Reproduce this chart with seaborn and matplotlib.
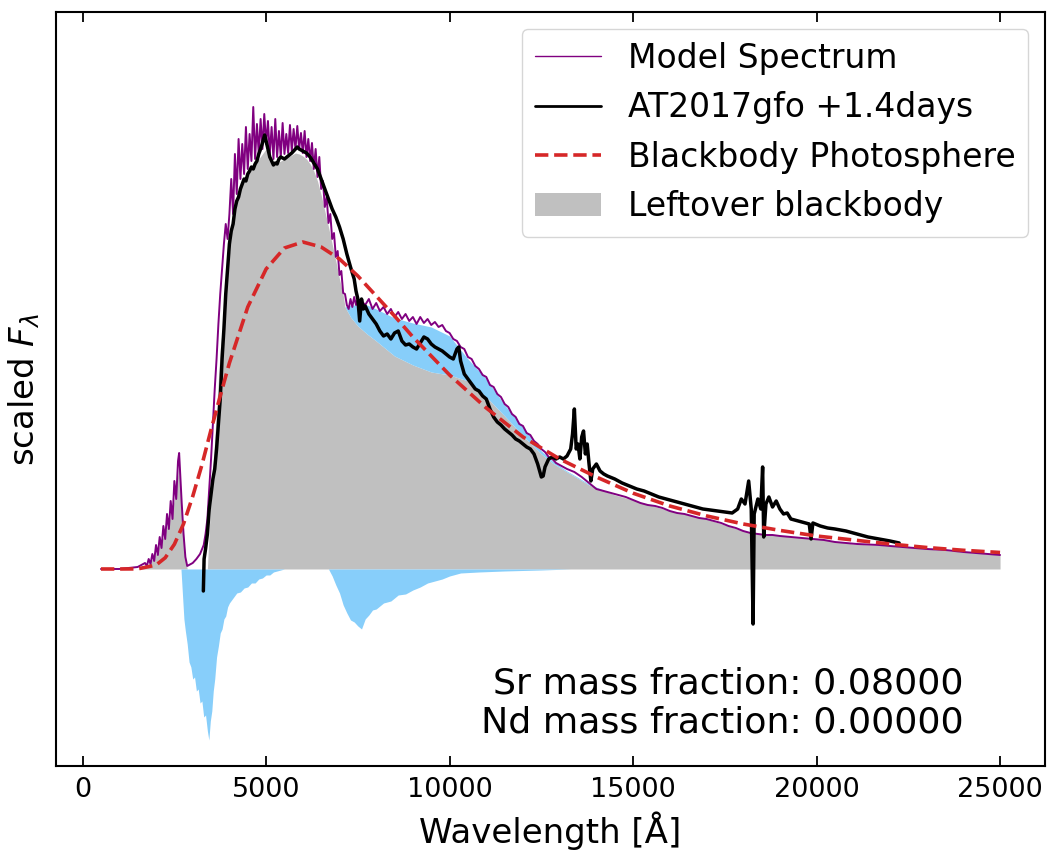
import numpy as np
import pandas as pd
import matplotlib
matplotlib.use("Agg")
import matplotlib.pyplot as plt
import seaborn as sns
from matplotlib.patches import Patch
from matplotlib.lines import Line2D

# ---------------- data ----------------
model_wave = [500, 1000, 1250, 1500, 1600, 1700, 1750, 1800, 1850, 1900, 1950, 2000, 2050, 2100, 2150,
              2200, 2250, 2300, 2350, 2400, 2450, 2500, 2550, 2600, 2630, 2660, 2700, 2750, 2800, 2850,
              2900, 3000, 3100, 3200, 3300, 3350,
              3400, 3450, 3500, 3550, 3600, 3650, 3700, 3750, 3800, 3850, 3900,
              3950, 4000, 4050, 4100, 4150, 4200, 4250, 4300, 4350, 4400, 4450, 4500, 4550, 4600, 4650,
              4700, 4750, 4800, 4850, 4900, 4950, 5000, 5050, 5100, 5150, 5200, 5250, 5300, 5350, 5400,
              5450, 5500, 5550, 5600, 5650, 5700, 5750, 5800, 5850, 5900, 5950, 6000, 6050, 6100, 6150,
              6200, 6250, 6300, 6350, 6400, 6450, 6500, 6550, 6600, 6650, 6700, 6750, 6800, 6850, 6900,
              6950, 7000, 7050, 7100, 7150, 7200,
              7250, 7300, 7350, 7400, 7450, 7500, 7550, 7600, 7700, 7800, 7900, 8000, 8100, 8200, 8300,
              8400, 8500, 8600, 8700, 8800, 8900, 9000, 9100, 9200, 9300, 9400, 9500, 9600, 9700, 9800,
              9900, 10000, 10100, 10200, 10300, 10400, 10500, 10600, 10700, 10800, 10900, 11000, 11100,
              11200, 11300, 11400, 11500, 11600, 11700, 11800, 11900, 12000, 12100, 12200, 12300, 12400,
              12500, 12600, 12700, 12800, 12900, 13000, 13200, 13400, 13600, 13800, 14000, 14200, 14400,
              14600, 14800, 15000, 15200, 15400, 15600, 15800, 16000, 16200, 16400, 16600, 16800, 17000,
              17200, 17400, 17600, 17800, 18000, 18200, 18400, 18600, 18800, 19000, 19300, 19600, 19900,
              20200, 20500, 20800, 21100, 21400, 21700, 22000, 22500, 23000, 23500, 24000, 24500, 25000]
model_flux = [0.0, 0.0, 0.01, 0.02, 0.04, 0.06, 0.03, 0.10, 0.05, 0.15, 0.08, 0.24, 0.14, 0.32, 0.21,
              0.43, 0.30, 0.55, 0.40, 0.68, 0.50, 0.88, 0.70, 1.08, 1.16, 0.95, 0.66, 0.35, 0.12, 0.03,
              0.04, 0.06, 0.10, 0.15, 0.24, 0.35,
              0.50, 0.80, 1.10, 1.45, 1.80, 2.10, 2.45, 2.75, 3.00, 3.25, 3.45,
              3.30, 3.55, 3.90, 3.55, 4.15, 3.75, 4.30, 3.90, 4.25, 3.95, 4.42, 4.00, 4.35, 4.08, 4.62,
              4.10, 4.45, 4.15, 4.50, 4.20, 4.55, 4.25, 4.48, 4.15, 4.42, 4.10, 4.50, 4.12, 4.38, 4.12,
              4.46, 4.15, 4.35, 4.16, 4.44, 4.18, 4.40, 4.20, 4.43, 4.20, 4.36, 4.16, 4.38, 4.12, 4.30,
              4.08, 4.26, 4.00, 4.20, 3.92, 4.12, 3.80, 3.88, 3.62, 3.72, 3.46, 3.55, 3.30, 3.36, 3.12,
              3.18, 2.94, 2.98, 2.76, 2.75, 2.64,
              2.60, 2.70, 2.62, 2.72, 2.64, 2.70, 2.62, 2.68, 2.64, 2.70, 2.60, 2.66, 2.58, 2.62, 2.55,
              2.60, 2.52, 2.57, 2.50, 2.55, 2.48, 2.52, 2.45, 2.52, 2.46, 2.50, 2.44, 2.47, 2.42, 2.44,
              2.38, 2.36, 2.30, 2.28, 2.22, 2.20, 2.12, 2.10, 2.03, 2.00, 1.94, 1.92, 1.84,
              1.82, 1.75, 1.72, 1.65, 1.62, 1.55, 1.52, 1.45, 1.43, 1.36, 1.34, 1.28, 1.25,
              1.20, 1.17, 1.12, 1.10, 1.06, 1.04, 1.00, 0.97, 0.92, 0.86, 0.80, 0.78, 0.76,
              0.74, 0.72, 0.69, 0.66, 0.64, 0.63, 0.61, 0.58, 0.56, 0.55, 0.53, 0.51, 0.50,
              0.48, 0.46, 0.43, 0.41, 0.38, 0.36, 0.35, 0.34, 0.34, 0.33, 0.32, 0.31, 0.30,
              0.29, 0.27, 0.26, 0.25, 0.245, 0.24, 0.23, 0.215, 0.20, 0.19, 0.17, 0.155, 0.14]

obs_wave = [3290, 3310, 3350, 3400, 3450, 3500, 3550, 3600, 3650, 3700, 3750, 3800, 3850, 3900, 3950,
            4000, 4050, 4100, 4150, 4200, 4250, 4300, 4350, 4400, 4450, 4500, 4550, 4600, 4650, 4700,
            4750, 4800, 4850, 4900, 4960, 5000, 5050, 5100, 5150, 5200, 5250, 5300, 5350, 5400, 5500,
            5600, 5700, 5800, 5850, 5900, 6000, 6100, 6200, 6300, 6400, 6500, 6600, 6700, 6800, 6900,
            7000, 7100, 7200, 7300, 7400, 7450, 7500, 7550, 7600, 7650, 7700, 7800, 7900, 8000, 8100,
            8200, 8300, 8400, 8500, 8600, 8700, 8800, 8900, 9000, 9100, 9200, 9300, 9400, 9500, 9600,
            9700, 9800, 9900, 10000, 10100, 10200, 10250, 10300, 10400, 10500, 10600, 10700, 10800,
            10900, 11000, 11100, 11200, 11300, 11400, 11500, 11600, 11700, 11800, 11900, 12000, 12100,
            12200, 12300, 12400, 12500, 12550, 12600, 12700, 12800, 12900, 13000, 13100, 13200, 13300,
            13350, 13400, 13450, 13500, 13550, 13600, 13650, 13700, 13750, 13800, 13850, 13900, 14000,
            14100, 14200, 14300, 14500, 14700, 14900, 15100, 15300, 15500, 15700, 15900, 16100, 16300,
            16500, 16700, 16900, 17100, 17300, 17500, 17700, 17850, 17950, 18050, 18150, 18220, 18270,
            18300, 18400, 18480, 18530, 18560, 18620, 18700, 18800, 18900, 19000, 19100, 19200, 19300,
            19500, 19700, 19800, 19850, 19900, 20100, 20300, 20500, 20800, 21100, 21400, 21700, 22000,
            22250]
obs_flux = [-0.22, 0.10, 0.20, 0.35, 0.60, 0.75, 0.90, 1.00, 1.20, 1.45, 1.70, 2.10, 2.40, 2.75, 3.00,
            3.25, 3.38, 3.45, 3.60, 3.68, 3.72, 3.80, 3.85, 3.90, 3.88, 3.95, 3.98, 4.02, 4.00, 4.05,
            4.08, 4.15, 4.20, 4.26, 4.34, 4.28, 4.20, 4.12, 4.08, 4.04, 4.06, 4.05, 4.10, 4.12, 4.10,
            4.13, 4.16, 4.20, 4.22, 4.20, 4.18, 4.16, 4.12, 4.06, 4.00, 3.90, 3.80, 3.70, 3.60, 3.52,
            3.42, 3.30, 3.15, 3.02, 2.90, 2.78, 2.70, 2.48, 2.70, 2.60, 2.63, 2.55, 2.50, 2.45, 2.38,
            2.33, 2.35, 2.30, 2.36, 2.38, 2.28, 2.24, 2.25, 2.22, 2.20, 2.26, 2.32, 2.30, 2.25, 2.22,
            2.20, 2.18, 2.15, 2.12, 2.10, 2.20, 2.22, 2.08, 1.95, 1.90, 1.85, 1.80, 1.78,
            1.73, 1.70, 1.60, 1.52, 1.47, 1.44, 1.40, 1.37, 1.34, 1.30, 1.28, 1.25, 1.22,
            1.20, 1.15, 1.05, 0.92, 0.93, 1.02, 1.10, 1.12, 1.10, 1.12, 1.10, 1.13, 1.20,
            1.35, 1.60, 1.20, 1.25, 1.10, 1.32, 1.38, 1.15, 1.25, 1.05, 0.88, 1.00, 1.05,
            0.98, 0.95, 0.93, 0.90, 0.86, 0.83, 0.80, 0.78, 0.75, 0.72, 0.70, 0.68, 0.66,
            0.64, 0.62, 0.60, 0.59, 0.58, 0.57, 0.56, 0.60, 0.70, 0.65, 0.88, 0.60, -0.55,
            0.55, 0.70, 0.60, 1.02, 0.32, 0.65, 0.72, 0.62, 0.68, 0.60, 0.55, 0.56, 0.50,
            0.48, 0.46, 0.45, 0.30, 0.46, 0.43, 0.41, 0.40, 0.38, 0.35, 0.32, 0.30, 0.28,
            0.26]

bb_wave = [500, 1000, 1500, 2000, 2250, 2500, 2750, 3000, 3250, 3500, 3750, 4000, 4500, 5000, 5500,
           6000, 6500, 7000, 7500, 8000, 8500, 9000, 10000, 11000, 12000, 13000, 14000, 15000, 16000,
           17000, 18000, 19000, 20000, 21000, 22000, 23000, 24000, 25000]
bb_flux = [0.0, 0.0, 0.001, 0.039, 0.112, 0.247, 0.451, 0.726, 1.04, 1.393, 1.73, 2.06, 2.62, 3.00, 3.21,
           3.27, 3.22, 3.10, 2.93, 2.73, 2.53, 2.32, 1.94, 1.61, 1.32, 1.10, 0.92, 0.758, 0.63,
           0.531, 0.45, 0.386, 0.33, 0.29, 0.25, 0.215, 0.187, 0.165]

gray_wave = [500, 1500, 1800, 2000, 2200, 2400, 2500, 2600, 2630, 2700, 2800, 2850, 3400, 3450, 3550,
             3650, 3750, 3850, 3950, 4000, 4050, 4100, 4150, 4200, 4300, 4400, 4500, 4600, 4700, 4800,
             4900, 5000, 5100, 5200, 5300, 5400, 5500, 5600, 5700, 5800, 5900, 6000, 6100, 6200, 6300,
             6400, 6500, 6600, 6700, 6800, 6900, 7000, 7100, 7150, 7300, 7500, 7750, 8000, 8500, 9000,
             9500, 10000, 10500, 11000, 11500, 12000, 12500, 12800, 13200, 13800, 14500, 15000, 16000,
             17000, 18000, 19000, 20000, 21000, 22000, 23000, 24000, 25000]
gray_flux = [0.0, 0.0, 0.05, 0.15, 0.32, 0.52, 0.70, 0.95, 1.10, 0.60, 0.10, 0.0, 0.0, 0.40, 1.00,
             1.60, 2.20, 2.55, 2.95, 3.15, 3.35, 3.50, 3.60, 3.70, 3.82, 3.90, 3.95, 4.00, 4.05, 4.10,
             4.15, 4.20, 4.10, 4.05, 4.06, 4.08, 4.10, 4.12, 4.14, 4.16, 4.15, 4.13, 4.10, 4.05, 3.98,
             3.88, 3.74, 3.58, 3.42, 3.25, 3.08, 2.90, 2.74, 2.62, 2.52, 2.43, 2.35, 2.28, 2.13, 2.04,
             1.97, 1.94, 1.88, 1.72, 1.53, 1.33, 1.15, 1.06, 0.97, 0.84, 0.74, 0.69, 0.58,
             0.50, 0.38, 0.33, 0.30, 0.25, 0.23, 0.20, 0.17, 0.14]

excess_wave = [7150, 7300, 7500, 7750, 8000, 8500, 9000, 9500, 10000, 10500, 11000, 11500, 12000,
               12500, 12800, 13200, 13800, 14500]
excess_top = [2.62, 2.64, 2.64, 2.64, 2.60, 2.51, 2.46, 2.42, 2.33, 2.10, 1.90, 1.64, 1.42,
              1.18, 1.08, 0.98, 0.85, 0.74]
excess_bottom = [2.62, 2.52, 2.43, 2.35, 2.28, 2.13, 2.04, 1.97, 1.94, 1.88, 1.72, 1.53, 1.33,
                 1.15, 1.06, 0.97, 0.84, 0.74]

absorb_wave = [2680, 2720, 2760, 2800, 2850, 2900, 2950, 3000, 3050, 3100, 3150, 3200, 3250, 3300,
               3350, 3400, 3440, 3480, 3520, 3560, 3600, 3650, 3700, 3750, 3800, 3850, 3900, 3950,
               4000, 4100, 4200, 4300, 4400, 4500, 4600, 4700, 4800, 4900, 5000, 5100, 5200, 5300,
               5400, 5500, 6700, 6800, 6900, 7000, 7100, 7200, 7300, 7400, 7500, 7600, 7700, 7800,
               7900, 8000, 8200, 8400, 8600, 8800, 9000, 9200, 9400, 9600, 9800, 10000, 10300, 10800,
               11500, 12500, 13300]
absorb_flux = [0.0, -0.25, -0.50, -0.62, -0.75, -0.93, -0.98, -1.10, -1.08, -1.22, -1.20, -1.34,
               -1.32, -1.48, -1.46, -1.62, -1.71, -1.52, -1.42, -1.22, -1.10, -0.88, -0.77, -0.64,
               -0.60, -0.50, -0.47, -0.38, -0.34, -0.29, -0.24, -0.23, -0.19, -0.18, -0.14, -0.14,
               -0.10, -0.09, -0.06, -0.06, -0.03, -0.02, -0.01, 0.0, 0.0, -0.07, -0.16, -0.24,
               -0.36, -0.44, -0.51, -0.53, -0.57, -0.60, -0.50, -0.46, -0.41, -0.40, -0.34, -0.32,
               -0.26, -0.25, -0.21, -0.18, -0.14, -0.12, -0.10, -0.07, -0.04, -0.03, -0.02, -0.01, 0.0]

legend_labels = ["Model Spectrum", "AT2017gfo +1.4days", "Blackbody Photosphere", "Leftover blackbody"]
annotation_lines = ["Sr mass fraction: 0.08000", "Nd mass fraction: 0.00000"]
x_ticks = [0, 5000, 10000, 15000, 20000, 25000]

# ---------------- plot ----------------
sns.set_style("ticks")
plt.rcParams["font.family"] = ["DejaVu Sans"]
plt.rcParams["text.color"] = "black"
plt.rcParams["axes.labelcolor"] = "black"
plt.rcParams["xtick.color"] = "black"
plt.rcParams["ytick.color"] = "black"

fig = plt.figure(figsize=(10.47, 8.51), dpi=100)
ax = fig.add_axes([0.0535, 0.0999, 0.9446, 0.886])

c_purple = "purple"
c_red = "#d62728"
c_gray = "#c0c0c0"
c_blue = "#87cefa"

ax.fill_between(gray_wave, 0, gray_flux, color=c_gray, lw=0, zorder=1)
ax.fill_between(excess_wave, excess_bottom, excess_top, color=c_blue, lw=0, zorder=1.5)
ax.fill_between(absorb_wave, absorb_flux, 0, color=c_blue, lw=0, zorder=1.5)

df_model = pd.DataFrame({"w": model_wave, "f": model_flux})
df_obs = pd.DataFrame({"w": obs_wave, "f": obs_flux})
df_bb = pd.DataFrame({"w": bb_wave, "f": bb_flux})

sns.lineplot(data=df_model, x="w", y="f", ax=ax, color=c_purple, lw=1.4,
             estimator=None, sort=False, zorder=3)
sns.lineplot(data=df_obs, x="w", y="f", ax=ax, color="black", lw=2.5,
             estimator=None, sort=False, zorder=4)
sns.lineplot(data=df_bb, x="w", y="f", ax=ax, color=c_red, lw=2.6, ls="--",
             estimator=None, sort=False, zorder=5)

ax.set_xlim(-725, 26225)
ax.set_ylim(-1.97, 5.57)
ax.set_xticks(x_ticks)
ax.set_yticks([])
ax.tick_params(axis="x", direction="in", top=True, bottom=True, length=7, width=1.3,
               labelsize=19.5, pad=8, colors="black")
for s in ax.spines.values():
    s.set_linewidth(1.5)
    s.set_color("black")
    s.set_visible(True)

ax.set_xlabel("Wavelength [Å]", fontsize=24.5, labelpad=6)
ax.set_ylabel(r"scaled $F_\lambda$", fontsize=24.5, labelpad=10)

handles = [Line2D([], [], color=c_purple, lw=1.0),
           Line2D([], [], color="black", lw=2.0),
           Line2D([], [], color=c_red, lw=2.6, ls="--"),
           Patch(facecolor=c_gray, edgecolor="none")]
leg = ax.legend(handles, legend_labels, loc="upper right", fontsize=23.8, frameon=True,
                fancybox=True, framealpha=0.8, edgecolor="0.8")
for t in leg.get_texts():
    t.set_color("black")

ax.text(0.918, 0.0955, annotation_lines[0], transform=ax.transAxes, ha="right",
        va="baseline", fontsize=26.2, color="black")
ax.text(0.918, 0.0438, annotation_lines[1], transform=ax.transAxes, ha="right",
        va="baseline", fontsize=26.2, color="black")

fig.savefig("out.png", dpi=100)
